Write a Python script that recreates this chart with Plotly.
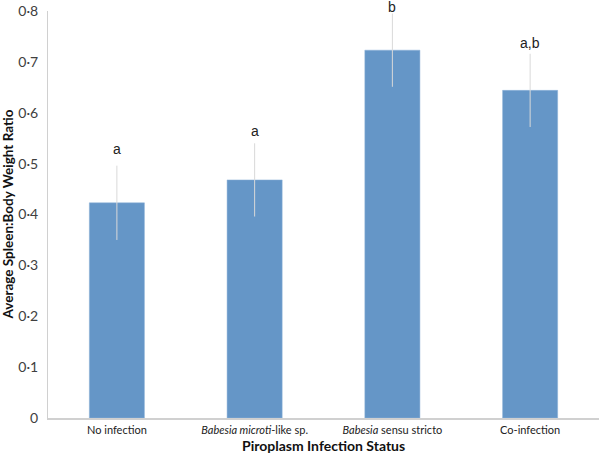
import plotly.graph_objects as go

categories = ["No infection", "<i>Babesia microti</i>-like sp.", "<i>Babesia</i> sensu stricto", "Co-infection"]
means = [0.423, 0.468, 0.723, 0.644]
errors = [0.073, 0.072, 0.072, 0.072]
letters = ["a", "a", "b", "a,b"]
letter_shift = [17, 12, 7, 11]
tick_vals = [0, 0.1, 0.2, 0.3, 0.4, 0.5, 0.6, 0.7, 0.8]
tick_text = ["0", "0·1", "0·2", "0·3", "0·4", "0·5", "0·6", "0·7", "0·8"]
x_title = "<b>Piroplasm Infection Status</b>"
y_title = "<b>Average Spleen:Body Weight Ratio</b>"

fig = go.Figure()
fig.add_trace(go.Bar(
    x=categories, y=means, width=0.4,
    marker=dict(color="#6596c7", line=dict(color="#8fb2d8", width=0.5)),
    error_y=dict(type="data", array=errors, visible=True, color="#d9d9d9",
                 thickness=1, width=0),
    hoverinfo="skip",
))
for c, m, e, t, s in zip(categories, means, errors, letters, letter_shift):
    fig.add_annotation(x=c, y=m + e, text=t, showarrow=False, yanchor="middle", yshift=s,
                       font=dict(family="Liberation Sans, Arial", size=14, color="#222222"))

fig.add_annotation(xref="paper", yref="paper", x=0.5, y=0, yshift=-27, yanchor="middle",
                   text=x_title, showarrow=False,
                   font=dict(family="Lato, Open Sans, sans-serif", size=14, color="#111111"))
fig.add_annotation(xref="paper", yref="paper", x=0, y=0.5, xshift=-41, xanchor="center",
                   text=y_title, showarrow=False, textangle=-90,
                   font=dict(family="Lato, Open Sans, sans-serif", size=13.5, color="#111111"))

fig.update_layout(
    width=600, height=456,
    margin=dict(l=48, r=1, t=11, b=38),
    plot_bgcolor="white", paper_bgcolor="white",
    showlegend=False, bargap=0.6,
    font=dict(family="Lato, Open Sans, sans-serif", color="#404040"),
)
fig.update_xaxes(
    showline=True, linecolor="#d0d0d0", linewidth=1.5, ticks="", automargin=False,
    tickfont=dict(size=11, color="#222222"), ticklabelstandoff=1,
)
fig.update_yaxes(
    range=[0, 0.8], tickvals=tick_vals, ticktext=tick_text, automargin=False,
    showline=True, linecolor="#d0d0d0", linewidth=1, showgrid=False, zeroline=False,
    ticks="", tickfont=dict(size=14, color="#404040"), ticklabelstandoff=6,
)
fig.write_html("out.html", config={"displayModeBar": False},
               post_script="document.body.style.margin='0';")
